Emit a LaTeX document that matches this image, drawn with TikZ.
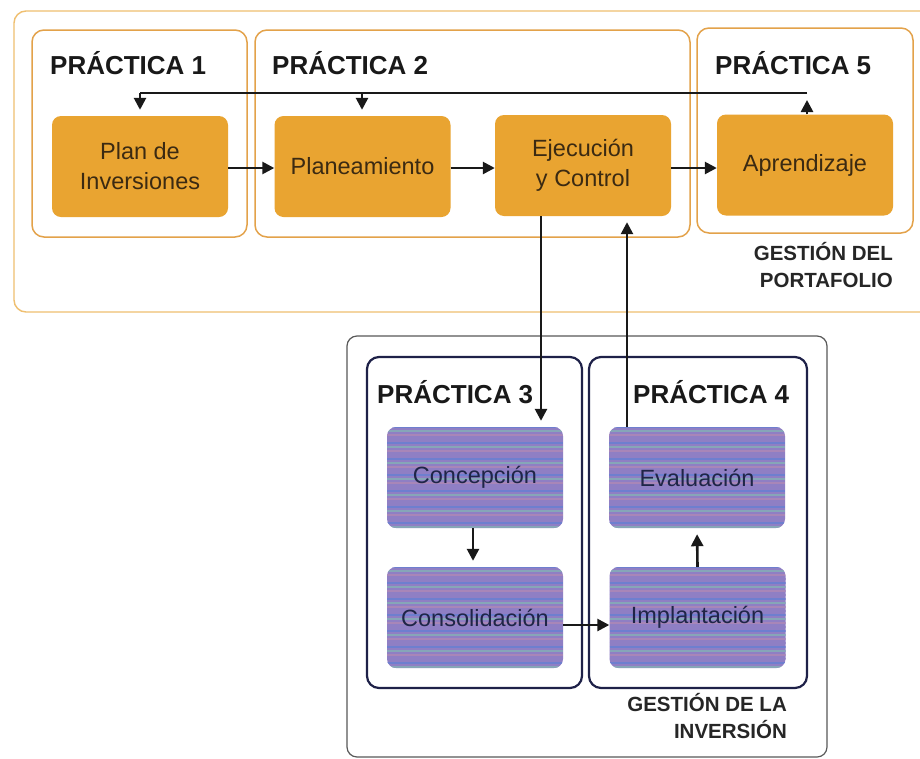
\documentclass[tikz,border=0pt]{standalone}
\usepackage{fontspec}
\setmainfont{Liberation Sans}
\usetikzlibrary{arrows.meta,calc}
\definecolor{boxorange}{HTML}{E9A431}
\definecolor{edgeorange}{HTML}{E3A24A}
\definecolor{outerorange}{HTML}{EFBF70}
\definecolor{navy}{HTML}{1E2148}
\definecolor{otext}{HTML}{3B2A12}
\definecolor{vtext}{HTML}{1F2547}
\definecolor{stA}{HTML}{8F7FC4}
\definecolor{stB}{HTML}{6E7FCF}
\definecolor{stC}{HTML}{86A6B8}
\definecolor{stD}{HTML}{A886B8}
\tikzset{
  practbox/.style={draw=edgeorange, line width=1.5pt, rounded corners=12pt, inner sep=0pt},
  navybox/.style={draw=navy, line width=2.2pt, rounded corners=12pt, inner sep=0pt},
  obox/.style={fill=boxorange, rounded corners=9pt, minimum width=176pt, minimum height=101pt,
    inner sep=0pt, align=center, text=otext, font=\fontsize{23.5}{30}\selectfont},
  vbox/.style={rounded corners=9pt, minimum width=176pt, minimum height=101pt,
    inner sep=0pt, align=center, text=vtext, font=\fontsize{23.5}{30}\selectfont,
    fill=stA,
    path picture={
      \foreach \k in {0,...,26}{
        \pgfmathtruncatemacro{\m}{mod(\k,4)}
        \ifcase\m \def\cc{stB}\or \def\cc{stC}\or \def\cc{stD}\or \def\cc{stA}\fi
        \draw[\cc, line width=2.2pt] ([yshift=-\k*4pt]path picture bounding box.north west) -- ([yshift=-\k*4pt]path picture bounding box.north east);
      }
    }},
  ptitle/.style={font=\bfseries\fontsize{26}{28}\selectfont, text=black!90, inner sep=0pt},
  gtitle/.style={font=\bfseries\fontsize{20.5}{27}\selectfont, text=black!85, inner sep=0pt, align=right},
  arr/.style={line width=2.6pt, draw=black!90, -{Triangle[length=12pt,width=12pt]}},
  ln/.style={line width=2.6pt, draw=black!90},
}
\begin{document}
\begin{tikzpicture}[x=1pt,y=-1pt]
\useasboundingbox (0,0) rectangle (920,758);
\fill[white] (0,0) rectangle (920,758);
% outer boxes
\node[draw=outerorange, line width=1.4pt, rounded corners=12pt, minimum width=921pt, minimum height=301pt, inner sep=0pt] (gp) at (474.5,161.5) {};
\node[draw=black!65, line width=1.2pt, rounded corners=10pt, minimum width=480pt, minimum height=421pt, inner sep=0pt] (gi) at (587,546.5) {};
% practice boxes
\node[practbox, minimum width=215pt, minimum height=207pt] (p1) at (139.5,133.5) {};
\node[practbox, minimum width=435pt, minimum height=207pt] (p2) at (472.5,133.5) {};
\node[practbox, minimum width=216pt, minimum height=205pt] (p5) at (805,130.5) {};
\node[navybox, minimum width=215pt, minimum height=331pt] (p3) at (474.5,522.5) {};
\node[navybox, minimum width=218pt, minimum height=331pt] (p4) at (698,522.5) {};
% titles
\node[ptitle, anchor=west] (t1) at (50,63) {PRÁCTICA 1};
\node[ptitle, anchor=west] (t2) at (272,63) {PRÁCTICA 2};
\node[ptitle, anchor=west] (t5) at (715,63) {PRÁCTICA 5};
\node[ptitle, anchor=west] (t3) at (377,392) {PRÁCTICA 3};
\node[ptitle, anchor=west] (t4) at (633,392) {PRÁCTICA 4};
\node[gtitle, anchor=north east] (g1) at (893,242) {GESTIÓN DEL\\PORTAFOLIO};
\node[gtitle, anchor=north east] (g2) at (787,693) {GESTIÓN DE LA\\INVERSIÓN};
% process boxes
\node[obox] (plan) at (140,166.5) {Plan de\\Inversiones};
\node[obox] (plane) at (362.5,166.5) {Planeamiento};
\node[obox] (ejec) at (583,165.5) {Ejecución\\y Control};
\node[obox] (apr) at (805,165) {Aprendizaje};
\node[vbox] (conc) at (475,477.5) {Concepción};
\node[vbox] (cons) at (475,617.5) {Consolidación};
\node[vbox] (eval) at (697,477.5) {Evaluación};
\node[vbox] (impl) at (697.5,617.5) {Implantación};
% connectors
\coordinate (fr) at (807,93);
\coordinate (fl) at (140,93);
\coordinate (fm) at (362,93);
\coordinate (hy) at (0,168);
\draw[arr] (apr.north -| fr) -- ([yshift=-7pt]fr);
\draw[ln] (fr) -- (fl);
\draw[arr, shorten >=6pt] (fl) -- (plan.north);
\draw[arr, shorten >=6pt] (fm) -- (fm |- plane.north);
\draw[arr] (plan.east |- hy) -- (plane.west |- hy);
\draw[arr] (plane.east |- hy) -- (ejec.west |- hy);
\draw[arr] (ejec.east |- hy) -- (apr.west |- hy);
\coordinate (dx) at (541,0);
\coordinate (ux) at (627,0);
\coordinate (cx) at (473,0);
\coordinate (iy) at (0,625);
\draw[arr, shorten >=6pt] (ejec.south -| dx) -- (conc.north -| dx);
\draw[arr, shorten >=6pt] (eval.north -| ux) -- (ejec.south -| ux);
\draw[arr, shorten >=6pt] (conc.south -| cx) -- (cons.north -| cx);
\draw[arr] (cons.east |- iy) -- (impl.west |- iy);
\draw[arr, shorten >=6pt] (impl.north) -- (eval.south);
\end{tikzpicture}
\end{document}
